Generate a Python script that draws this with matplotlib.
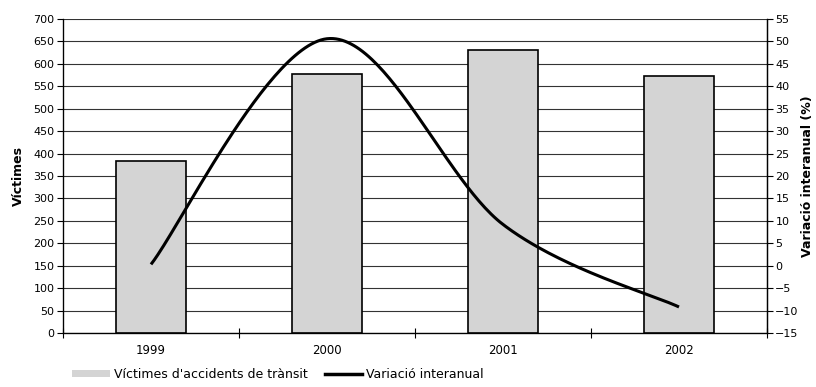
import numpy as np
import matplotlib
matplotlib.use("Agg")
import matplotlib.pyplot as plt
from matplotlib.lines import Line2D
from matplotlib.patches import Patch

plt.rcParams['font.family'] = ['DejaVu Sans']

years = ['1999', '2000', '2001', '2002']
victims = [383, 577, 631, 573]
variation = [0.3, 50.6, 9.2, -9.2]


def smooth_curve(xs, ys, n=60):
    """Catmull-Rom style Bezier smoothing through every point."""
    xs = np.asarray(xs, float)
    ys = np.asarray(ys, float)
    px = np.concatenate([[xs[0]], xs, [xs[-1]]])
    py = np.concatenate([[ys[0]], ys, [ys[-1]]])
    out_x, out_y = [], []
    t = np.linspace(0, 1, n)
    for i in range(1, len(px) - 2):
        p0 = np.array([px[i], py[i]])
        p3 = np.array([px[i + 1], py[i + 1]])
        p1 = p0 + (np.array([px[i + 1], py[i + 1]]) - np.array([px[i - 1], py[i - 1]])) / 6
        p2 = p3 - (np.array([px[i + 2], py[i + 2]]) - np.array([px[i], py[i]])) / 6
        b = ((1 - t) ** 3)[:, None] * p0 + (3 * (1 - t) ** 2 * t)[:, None] * p1 \
            + (3 * (1 - t) * t ** 2)[:, None] * p2 + (t ** 3)[:, None] * p3
        out_x.extend(b[:, 0])
        out_y.extend(b[:, 1])
    return np.array(out_x), np.array(out_y)


fig = plt.figure(figsize=(8.16, 3.87), dpi=100)
ax = fig.add_axes([63 / 816, 1 - 333 / 387, (767 - 63) / 816, (333 - 19) / 387])

x = np.arange(len(years))
ax.bar(x, victims, width=0.4, color='#d4d4d4', edgecolor='black', linewidth=1.2, zorder=3)
ax.set_xlim(-0.5, len(years) - 0.5)
ax.set_ylim(0, 700)
ax.set_yticks(np.arange(0, 701, 50))
ax.yaxis.grid(True, color='#333333', linewidth=0.8, zorder=0)
ax.set_axisbelow(True)

ax.set_xticks(x)
ax.set_xticklabels(years, fontsize=8.5)
ax.tick_params(axis='x', length=0, pad=8)
ax.set_xticks(np.arange(-0.5, len(years), 1), minor=True)
ax.tick_params(axis='x', which='minor', direction='inout', length=7, width=0.8)
ax.tick_params(axis='y', labelsize=8, length=4, width=0.8, pad=2)
ax.spines['top'].set_visible(False)
for s in ['left', 'bottom', 'right']:
    ax.spines[s].set_linewidth(0.9)
ax.set_ylabel('Víctimes', fontsize=9, fontweight='bold', labelpad=6)

ax2 = ax.twinx()
ax2.set_ylim(-15, 55)
ax2.set_yticks(np.arange(-15, 56, 5))
ax2.tick_params(axis='y', labelsize=8, length=4, width=0.8, pad=2)
ax2.spines['top'].set_visible(False)
ax2.spines['right'].set_linewidth(0.9)
cx, cy = smooth_curve(x, variation)
ax2.plot(cx, cy, color='black', linewidth=2.2, solid_capstyle='butt', zorder=4)
ax2.set_ylabel('Variació interanual (%)', fontsize=9, fontweight='bold', labelpad=2)

handles = [Patch(facecolor='#d4d4d4', edgecolor='none'),
           Line2D([0], [0], color='black', linewidth=2.5)]
fig.legend(handles, ["Víctimes d'accidents de trànsit", 'Variació interanual'],
           loc='lower left', bbox_to_anchor=(66 / 816, 0.0), ncol=2, frameon=False,
           fontsize=9, handlelength=3.0, handleheight=0.45, handletextpad=0.3,
           columnspacing=1.4, borderaxespad=0.1)

fig.savefig('out.png', dpi=100)
